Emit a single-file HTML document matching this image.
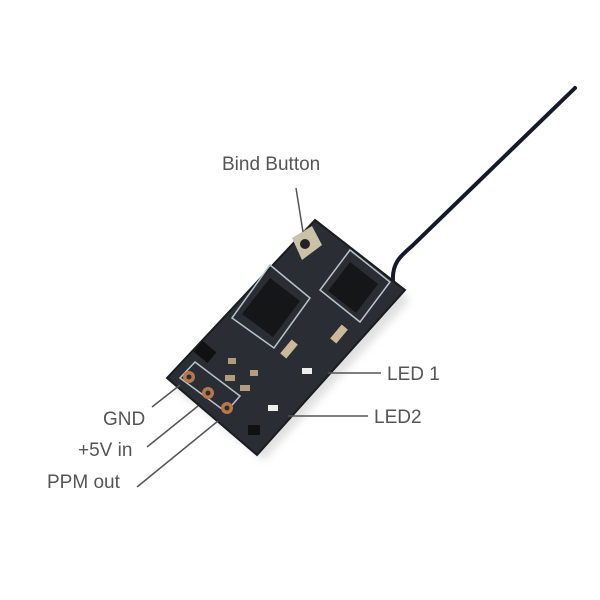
<!DOCTYPE html>
<html><head><style>
body{margin:0;width:600px;height:600px;background:#fff;overflow:hidden}
svg{position:absolute;left:0;top:0}
text{font-family:"Liberation Sans",sans-serif;fill:#555;font-size:19px}
</style></head><body>
<svg width="600" height="600" viewBox="0 0 600 600">
<defs><filter id="sh"><feGaussianBlur stdDeviation="4"/></filter></defs>
<path d="M393,280 C392,262 402,255 412,246 L575,88" stroke="#151a2a" stroke-width="4" fill="none" stroke-linecap="round"/>
<polygon points="174,388 320,230 410,300 264,460" fill="#ccc" filter="url(#sh)" opacity="0.6"/>
<polygon points="167,378 315,220 405,290 257,455" fill="#2a2d33" stroke="#1a1c20" stroke-width="2"/>
<g stroke="#b8c4cc" stroke-width="1.5" fill="none">
<polygon points="270,265 310,298 274,348 232,318"/>
<polygon points="350,250 390,282 360,322 320,290"/>
<polygon points="180,378 195,362 240,396 226,412"/>
</g>
<polygon points="270,278 300,301 273,337 242,314" fill="#151618"/>
<polygon points="350,262 378,284 356,313 328,291" fill="#151618"/>
<polygon points="292,238 312,226 322,245 302,260" fill="#c9c1a8"/>
<circle cx="305" cy="244" r="5" fill="#222"/>
<rect x="196" y="345" width="18" height="14" fill="#111" transform="rotate(40 205 352)"/>
<rect x="280" y="345" width="18" height="8" fill="#cbb99a" transform="rotate(-50 289 349)"/>
<rect x="330" y="330" width="18" height="8" fill="#cbb99a" transform="rotate(-50 339 334)"/>
<rect x="225" y="375" width="10" height="6" fill="#b09d80"/>
<rect x="240" y="385" width="10" height="6" fill="#b09d80"/>
<rect x="228" y="358" width="8" height="6" fill="#b09d80"/>
<rect x="250" y="370" width="8" height="6" fill="#b09d80"/>
<rect x="302" y="368" width="10" height="6" fill="#eee"/>
<rect x="268" y="405" width="10" height="6" fill="#eee"/>
<rect x="248" y="425" width="12" height="10" fill="#111"/>
<g fill="#b8764a"><circle cx="189" cy="377" r="6"/><circle cx="208" cy="393" r="6"/><circle cx="227" cy="408" r="6"/></g>
<g fill="#2a2d33"><circle cx="189" cy="377" r="2.5"/><circle cx="208" cy="393" r="2.5"/><circle cx="227" cy="408" r="2.5"/></g>
<g stroke="#555" stroke-width="1.5">
<line x1="296" y1="188" x2="303" y2="232"/>
<line x1="328" y1="373" x2="381" y2="373"/>
<line x1="288" y1="416" x2="368" y2="416"/>
<line x1="152" y1="407" x2="180" y2="385"/>
<line x1="147" y1="447" x2="198" y2="406"/>
<line x1="137" y1="487" x2="218" y2="421"/>
</g>
<text x="222" y="170">Bind Button</text>
<text x="387" y="380">LED 1</text>
<text x="374" y="423">LED2</text>
<text x="103" y="425">GND</text>
<text x="78" y="456">+5V in</text>
<text x="47" y="488">PPM out</text>
</svg>
</body></html>
